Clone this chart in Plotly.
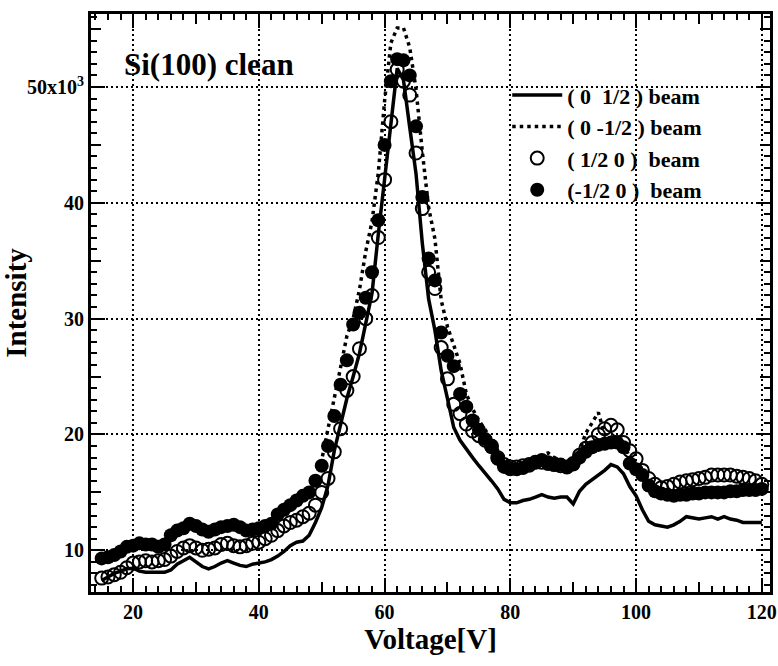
import plotly.graph_objects as go

voltage = list(range(15, 121))

beam_0_half = [7.4, 7.7, 8.0, 8.2, 8.4, 8.45, 8.2, 8.1, 8.1, 8.1,
               8.1, 8.3, 8.8, 9.1, 9.4, 9.0, 8.6, 8.4, 8.6, 8.9,
               9.1, 8.9, 8.7, 8.6, 8.8, 8.9, 9.0, 9.2, 9.5, 9.9,
               10.4, 10.7, 10.8, 11.3, 12.4, 13.7, 15.6, 18.6, 21.0, 23.1,
               25.0, 27.0, 29.6, 32.2, 37.3, 42.3, 46.8, 51.6, 50.6, 46.5,
               42.5, 36.5, 31.7, 29.0, 25.5, 23.1, 20.6, 19.5, 18.7, 18.0,
               17.3, 16.7, 16.0, 15.3, 14.4, 14.1, 14.1, 14.3, 14.4, 14.6,
               14.8, 14.6, 14.5, 14.6, 14.6, 14.0, 15.1, 15.7, 16.1, 16.5,
               16.9, 17.4, 17.2, 16.6, 15.5, 14.7, 13.5, 12.5, 12.2, 12.1,
               12.0, 12.2, 12.5, 12.9, 12.8, 12.7, 12.8, 12.9, 12.7, 12.9,
               12.7, 12.6, 12.4, 12.4, 12.4, 12.4]

beam_0_mhalf = [9.1, 9.2, 9.4, 9.7, 10.1, 10.2, 10.4, 10.3, 10.3, 10.1,
                10.3, 11.1, 11.5, 11.7, 12.1, 11.9, 11.6, 11.4, 11.6, 11.8,
                11.9, 12.0, 11.8, 11.5, 11.6, 11.7, 11.9, 12.1, 12.9, 13.3,
                13.7, 14.1, 14.5, 14.9, 16.0, 17.8, 20.5, 23.3, 25.8, 28.5,
                30.0, 32.5, 35.8, 38.4, 42.6, 48.8, 53.8, 55.1, 55.1, 53.4,
                49.8, 44.4, 39.6, 36.9, 31.6, 29.3, 27.7, 26.1, 23.5, 22.2,
                21.2, 20.4, 19.6, 18.6, 17.9, 17.5, 17.3, 17.5, 17.6, 17.9,
                18.2, 18.4, 18.0, 17.8, 17.6, 17.8, 18.6, 20.1, 21.0, 21.9,
                20.0, 19.8, 19.6, 19.2, 18.0, 17.2, 16.3, 15.5, 15.2, 15.0,
                15.0, 15.0, 15.1, 15.1, 15.2, 15.2, 15.3, 15.3, 15.3, 15.3,
                15.4, 15.4, 15.4, 15.4, 15.4, 15.4]

beam_half_0 = [7.6, 7.7, 7.9, 8.1, 8.5, 8.9, 9.0, 9.1, 9.0, 9.1,
               9.2, 9.5, 9.9, 10.2, 10.4, 10.2, 10.0, 10.1, 10.2, 10.5,
               10.6, 10.4, 10.3, 10.4, 10.6, 10.7, 11.0, 11.3, 11.7, 12.1,
               12.4, 12.6, 12.9, 13.2, 13.9, 15.0, 16.2, 18.5, 20.5, 23.8,
               25.0, 27.4, 30.0, 32.0, 37.0, 42.0, 47.0, 51.5, 50.5, 49.3,
               44.3, 39.5, 34.0, 32.6, 27.5, 24.8, 22.6, 21.8, 20.9, 20.3,
               19.9, 19.5, 19.0, 18.0, 17.4, 17.2, 17.2, 17.3, 17.4, 17.6,
               17.6, 17.5, 17.4, 17.3, 17.2, 17.5, 18.2, 18.8, 19.3, 20.0,
               20.5, 20.8, 20.4, 19.3, 18.6, 17.9, 16.9, 16.2, 15.7, 15.4,
               15.5, 15.7, 15.9, 16.0, 16.1, 16.2, 16.3, 16.5, 16.5, 16.5,
               16.5, 16.4, 16.3, 16.2, 16.0, 15.7]

beam_mhalf_0 = [9.3, 9.4, 9.6, 9.9, 10.3, 10.4, 10.6, 10.5, 10.5, 10.3,
                10.5, 11.3, 11.7, 11.9, 12.3, 12.1, 11.8, 11.6, 11.8, 12.0,
                12.1, 12.2, 12.0, 11.7, 11.8, 11.9, 12.1, 12.3, 13.1, 13.5,
                13.9, 14.3, 14.7, 15.0, 16.0, 17.3, 19.0, 21.6, 24.3, 26.4,
                29.5, 30.5, 31.8, 34.0, 38.5, 45.0, 50.5, 52.4, 52.3, 51.0,
                46.6, 40.5, 35.2, 33.3, 28.8, 26.8, 25.9, 23.5, 22.4, 21.2,
                20.4, 19.6, 18.9, 17.9, 17.2, 17.0, 17.0, 17.1, 17.3, 17.6,
                17.8, 17.6, 17.5, 17.4, 17.2, 17.4, 18.0, 18.5, 18.9, 19.1,
                19.2, 19.3, 19.3, 18.9, 17.5, 17.0, 16.5, 15.6, 15.1, 14.9,
                14.8, 14.7, 14.8, 14.8, 14.9, 14.9, 15.0, 15.0, 15.0, 15.0,
                15.1, 15.1, 15.2, 15.2, 15.2, 15.3]

x_labels = [20, 40, 60, 80, 100, 120]
y_ticks = [10, 20, 30, 40, 50]
y_labels = ["10", "20", "30", "40", "50x10<sup>3</sup>"]

FONT = "Liberation Serif"
XR = [13.3, 121.3]
YR = [6.4, 56.3]

fig = go.Figure()
fig.add_trace(go.Scatter(x=voltage, y=beam_mhalf_0, mode="markers", name="(-1/2 0 )&nbsp; beam",
                         marker=dict(symbol="circle", size=14, color="black", line=dict(width=0))))
fig.add_trace(go.Scatter(x=voltage, y=beam_half_0, mode="markers", name="( 1/2 0 )&nbsp; beam",
                         marker=dict(symbol="circle-open", size=13, color="black", line=dict(width=2, color="black"))))
fig.add_trace(go.Scatter(x=voltage, y=beam_0_mhalf, mode="lines", name="( 0 -1/2 ) beam",
                         line=dict(color="black", width=3.5, dash="3.5px,4px")))
fig.add_trace(go.Scatter(x=voltage, y=beam_0_half, mode="lines", name="( 0&nbsp; 1/2 ) beam",
                         line=dict(color="black", width=3.5)))

tickfont = dict(family=FONT, size=20, color="black", weight="bold")

fig.update_layout(
    width=778, height=666,
    margin=dict(l=91, r=8, t=14, b=74, autoexpand=False),
    paper_bgcolor="white", plot_bgcolor="white",
    font=dict(family=FONT, color="black"),
    showlegend=True,
    legend=dict(x=0.613, y=0.896, xanchor="left", yanchor="top",
                bgcolor="rgba(0,0,0,0)", traceorder="reversed",
                font=dict(family=FONT, size=22, color="black", weight="bold"),
                itemwidth=50, tracegroupgap=0),
    xaxis=dict(range=XR, showline=True, linecolor="black", linewidth=3, mirror="ticks",
               ticks="inside", ticklen=14, tickwidth=2, tickcolor="black", automargin=False,
               tickvals=x_labels, ticktext=[str(v) for v in x_labels], tickfont=tickfont,
               showgrid=True, gridcolor="black", gridwidth=1.5, griddash="2px,3px",
               zeroline=False,
               minor=dict(dtick=2, tick0=0, ticks="inside", ticklen=6, tickwidth=1.5, tickcolor="black", showgrid=False),
               title=dict(text="Voltage[V]", font=dict(family=FONT, size=29, color="black", weight="bold"), standoff=6)),
    yaxis=dict(range=YR, showline=True, linecolor="black", linewidth=3, mirror="ticks",
               ticks="inside", ticklen=14, tickwidth=2, tickcolor="black", automargin=False,
               tickvals=y_ticks, ticktext=y_labels, tickfont=tickfont,
               showgrid=True, gridcolor="black", gridwidth=1.5, griddash="2px,3px",
               zeroline=False,
               minor=dict(dtick=1, tick0=0, ticks="inside", ticklen=6, tickwidth=1.5, tickcolor="black", showgrid=False),
               title=dict(text="Intensity", font=dict(family=FONT, size=29, color="black", weight="bold"), standoff=8)),
    xaxis2=dict(range=XR, overlaying="x", showline=False, mirror="ticks", ticks="inside",
                ticklen=10, tickwidth=2, tickcolor="black", dtick=10, tick0=0,
                showticklabels=False, showgrid=False, zeroline=False),
    yaxis2=dict(range=YR, overlaying="y", showline=False, mirror="ticks", ticks="inside",
                ticklen=10, tickwidth=2, tickcolor="black", dtick=5, tick0=0,
                showticklabels=False, showgrid=False, zeroline=False),
)

# invisible helper trace to activate medium tick axes
fig.add_trace(go.Scatter(x=[XR[0]], y=[YR[0]], xaxis="x2", yaxis="y2", mode="markers",
                         marker=dict(opacity=0), showlegend=False, hoverinfo="skip"))

fig.add_annotation(text="Si(100) clean", xref="paper", yref="paper", x=0.045, y=0.913,
                   xanchor="left", yanchor="middle", showarrow=False,
                   font=dict(family=FONT, size=31, color="black", weight="bold"))

fig.write_html("out.html")
